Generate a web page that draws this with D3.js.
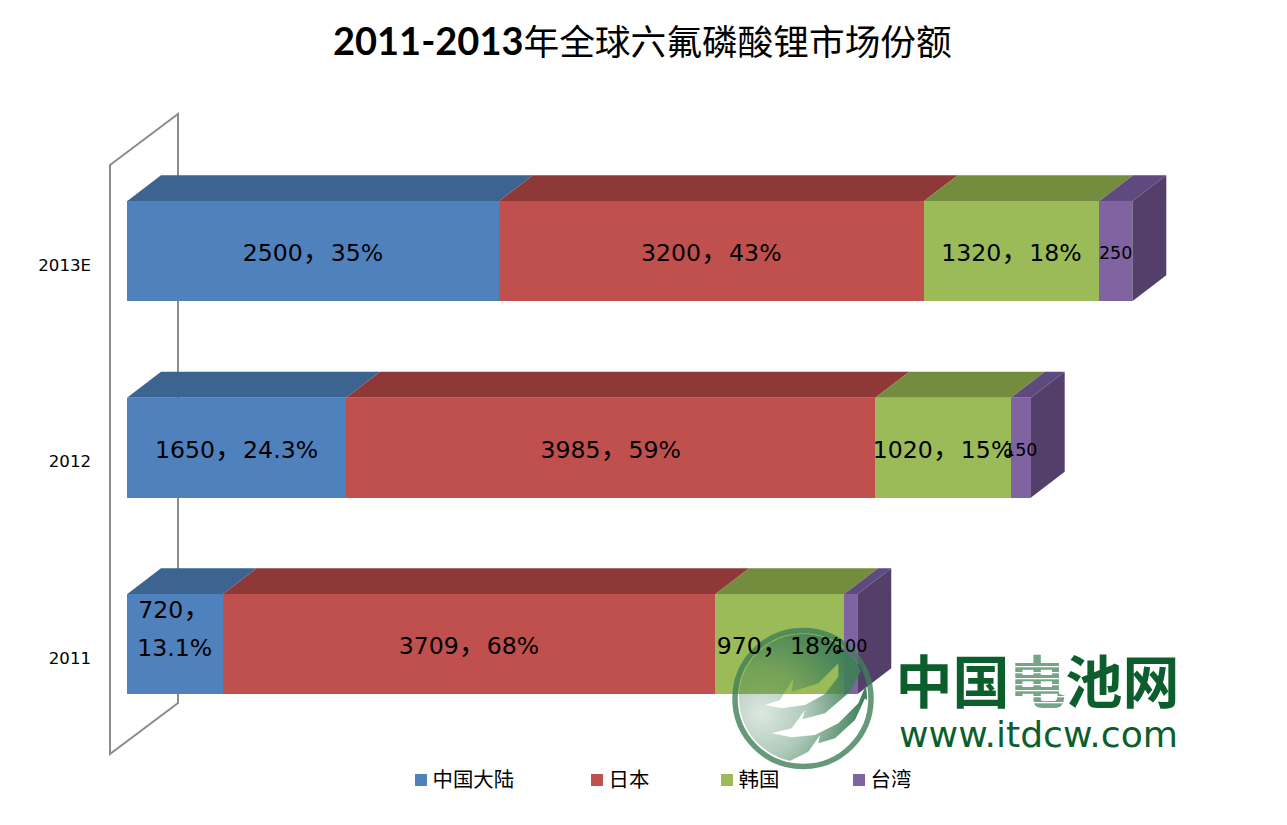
<!DOCTYPE html>
<html><head><meta charset="utf-8">
<script src="https://cdn.jsdelivr.net/npm/d3@7"></script>
<style>
html,body{margin:0;padding:0;background:#fff}
svg{display:block}
text{fill:#000}
</style></head><body><div id="c"></div>
<script>
const years = ["2013E","2012","2011"];
const seriesNames = ["中国大陆","日本","韩国","台湾"];
const china  = [2800,1650,720];
const japan  = [3200,3985,3709];
const korea  = [1320,1020,970];
const taiwan = [250,150,100];
const chinaLabels  = ["2500，35%","1650，24.3%","720，\n13.1%"];
const japanLabels  = ["3200，43%","3985，59%","3709，68%"];
const koreaLabels  = ["1320，18%","1020，15%","970，18%"];
const taiwanLabels = ["250","150","100"];
const frontColors = ["#4f81bd","#c0504d","#9bbb59","#8064a2"];
const topColors   = ["#3d6390","#8e3937","#738c3e","#5f4a80"];
const sideColor = "#543f6b";
const title1 = "2011-2013", title2 = "年全球六氟磷酸锂市场份额";

const W=1287,H=825, DX=34, DY=26;
const cjk='"Noto Sans CJK SC","DejaVu Sans",sans-serif';
const lab='"DejaVu Sans","Noto Sans CJK SC",sans-serif';
const svg=d3.select("#c").append("svg").attr("width",W).attr("height",H);
svg.append("rect").attr("width",W).attr("height",H).attr("fill","#fff");

const x=d3.scaleLinear().domain([0,8000]).range([127,127+8000*0.1328]);
const y=d3.scaleBand().domain(years).range([153,742.5]).paddingInner(0.491).paddingOuter(0.2455);

// title
const t=svg.append("text").attr("x",333).attr("y",55).attr("font-size",38);
t.append("tspan").attr("font-family",'Lato,sans-serif').attr("font-weight",700).text(title1);
t.append("tspan").attr("font-family",cjk).attr("font-size",35.7).text(title2);

// wall
const wall=[[110,165],[178,114],[178,703],[110,754]];
svg.append("path").attr("d",d3.line()(wall)+"Z").attr("fill","none").attr("stroke","#8c8c8c").attr("stroke-width",2);

// axis
const axis=d3.axisLeft(y).tickSize(0).tickPadding(19);
const ag=svg.append("g").attr("transform","translate(110,14)").call(axis);
ag.select(".domain").remove();
ag.selectAll("text").attr("font-family",lab).attr("font-size",16.6).attr("fill","#000");

// stacks
const rows=years.map((yr,i)=>({yr,vals:[china[i],japan[i],korea[i],taiwan[i]],labs:[chinaLabels[i],japanLabels[i],koreaLabels[i],taiwanLabels[i]]}));
const bw=y.bandwidth();
rows.forEach(r=>{
  let c=0; const y0=y(r.yr);
  const g=svg.append("g");
  const segs=r.vals.map((v,k)=>{const s={k,x0:x(c),x1:x(c+v),lab:r.labs[k]};c+=v;return s;});
  g.selectAll(".top").data(segs).join("path")
    .attr("d",s=>d3.line()([[s.x0,y0],[s.x0+DX,y0-DY],[s.x1+DX,y0-DY],[s.x1,y0]])+"Z")
    .attr("fill",s=>topColors[s.k]);
  const last=segs[3];
  g.append("path").attr("d",d3.line()([[last.x1,y0],[last.x1+DX,y0-DY],[last.x1+DX,y0+bw-DY],[last.x1,y0+bw]])+"Z").attr("fill",sideColor);
  g.selectAll(".front").data(segs).join("rect")
    .attr("x",s=>s.x0).attr("y",y0).attr("width",s=>s.x1-s.x0).attr("height",bw)
    .attr("shape-rendering","crispEdges")
    .attr("fill",s=>frontColors[s.k]);
  r.segs=segs; r.y0=y0;
});

// legend
const legendX=[415,591,721,853];
const lg=svg.selectAll(".lg").data(seriesNames).join("g");
lg.append("rect").attr("x",(d,i)=>legendX[i]).attr("y",774).attr("width",12).attr("height",12).attr("fill",(d,i)=>frontColors[i]);
lg.append("text").attr("x",(d,i)=>legendX[i]+17.5).attr("y",787).attr("font-family",cjk).attr("font-size",20.4).attr("fill","#222").text(d=>d);

// watermark logo
const defs=svg.append("defs");
const rg=defs.append("radialGradient").attr("id","lg").attr("gradientUnits","userSpaceOnUse")
  .attr("cx",762).attr("cy",713).attr("r",100);
rg.append("stop").attr("offset",0).attr("stop-color","#3f7f58").attr("stop-opacity",0.18);
rg.append("stop").attr("offset",0.45).attr("stop-color","#3f7f58").attr("stop-opacity",0.42);
rg.append("stop").attr("offset",1).attr("stop-color","#3f7f58").attr("stop-opacity",0.98);
const z=(a)=>a.map(p=>[725+p[0]/3,620+p[1]/3]);
const m=defs.append("mask").attr("id","lm").attr("maskUnits","userSpaceOnUse").attr("x",700).attr("y",600).attr("width",220).attr("height",220);
m.append("rect").attr("x",700).attr("y",600).attr("width",220).attr("height",220).attr("fill","#fff");
const leaves=[
 [[120,255],[165,240],[205,175],[200,215],[280,190],[340,130],[340,170],[300,222],[240,255],[170,265]],
 [[140,340],[200,325],[240,270],[232,298],[300,280],[375,215],[420,130],[425,190],[400,250],[340,310],[270,345],[200,352]],
 [[190,425],[250,395],[285,345],[280,370],[330,355],[390,300],[420,235],[435,250],[420,310],[370,380],[300,420],[240,430]]
];
leaves.forEach(l=>m.append("path").attr("d",d3.line().curve(d3.curveLinearClosed)(z(l))).attr("fill","#000"));
const logo=svg.append("g");
logo.append("circle").attr("cx",803).attr("cy",698).attr("r",64).attr("fill","url(#lg)").attr("mask","url(#lm)");
logo.append("circle").attr("cx",803).attr("cy",698.5).attr("r",68).attr("fill","none").attr("stroke","#3f7f58").attr("stroke-opacity",0.8).attr("stroke-width",5.5);
const dk="#0c5f2c";
const logoChars=["中","国","电","池","网"], logoX=[924,981,1037.5,1094,1151];
logoChars.forEach((ch,i)=>{
  logo.append("text").attr("x",logoX[i]).attr("y",703).attr("text-anchor","middle")
    .attr("font-family",cjk).attr("font-weight",700).attr("font-size",57)
    .style("fill",i==2?"#74a585":dk).text(ch);
});
[666,672,678,684,690,696,702].forEach(yy=>logo.append("rect").attr("x",1010).attr("y",yy).attr("width",56).attr("height",1.3).attr("fill","#fff"));
logo.append("text").attr("x",899).attr("y",747).attr("font-family",'"DejaVu Sans",sans-serif').attr("font-size",35)
  .attr("textLength",279).attr("lengthAdjust","spacingAndGlyphs").style("fill",dk).text("www.itdcw.com");

// data labels, above the watermark
rows.forEach(r=>{
  r.segs.forEach(s=>{
    const w=s.x1-s.x0, small=w<40;
    const lines=s.lab.split("\n");
    const cx=(s.x0+s.x1)/2;
    const cy=r.y0+bw/2+1.5;
    const lh=38;
    lines.forEach((ln,i)=>{
      const tx=svg.append("text").attr("x",cx).attr("y",cy+(lines.length>1?i*lh-36:0))
        .attr("dy","0.36em").attr("text-anchor","middle")
        .attr("font-family",lab).attr("font-size",small?17.5:23.6);
      ln.split(/(，)/).filter(p=>p).forEach(p=>{
        const ts=tx.append("tspan").text(p);
        if(p==="，") ts.attr("font-size",28).attr("font-family",cjk);
      });
    });
  });
});
</script></body></html>
